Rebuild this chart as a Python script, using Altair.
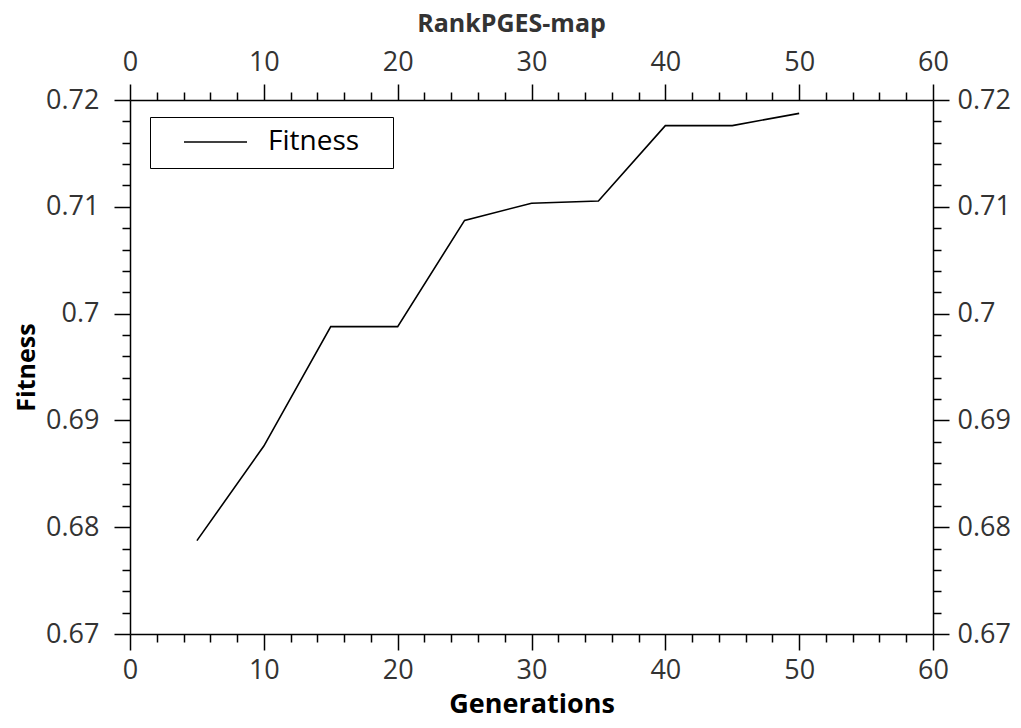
import altair as alt
import pandas as pd

generations = [5, 10, 15, 20, 25, 30, 35, 40, 45, 50]
fitness = [0.67874, 0.6876, 0.69878, 0.69878, 0.70873, 0.71033, 0.71054, 0.7176, 0.7176, 0.71875]
series = ["Fitness"] * len(generations)

x_ticks = list(range(0, 61, 2))
y_ticks = [round(0.67 + 0.002 * i, 3) for i in range(26)]

df = pd.DataFrame({"gen": generations, "fit": fitness, "series": series})

FONT = "Open Sans"
LABEL_SIZE = 27
X_MAJOR = "datum.value % 10 === 0"
Y_MAJOR = "abs(datum.value * 100 - round(datum.value * 100)) < 1e-6"


def axis(orient, values, major, fmt=None, title=None, pad=8, title_size=26, title_pad=4):
    kw = dict(
        orient=orient,
        values=values,
        grid=False,
        domainColor="black",
        domainWidth=1.5,
        tickColor="black",
        tickWidth=1.5,
        tickSize={"condition": {"test": major, "value": 16}, "value": 8},
        labelExpr=f"({major}) ? datum.label : ''",
        labelFont=FONT,
        labelFontSize=LABEL_SIZE,
        labelColor="#333333",
        labelOverlap=False,
        labelFlush=False,
        labelPadding=pad,
        titleFont=FONT,
        titleFontSize=title_size,
        titleFontWeight="bold",
        titleColor="black",
        titlePadding=title_pad,
    )
    if fmt:
        kw["format"] = fmt
    kw["title"] = title
    if title is None:
        kw["title"] = None
    return alt.Axis(**kw)


xscale = alt.Scale(domain=[0, 60], nice=False, zero=False)
yscale = alt.Scale(domain=[0.67, 0.72], nice=False, zero=False)

base = alt.Chart(df)

line = base.mark_line(strokeWidth=1.6).encode(
    x=alt.X("gen:Q", scale=xscale,
            axis=axis("bottom", x_ticks, X_MAJOR, title="Generations", pad=7,
                      title_size=27, title_pad=8)),
    y=alt.Y("fit:Q", scale=yscale,
            axis=axis("left", y_ticks, Y_MAJOR, fmt=".2~f", title="Fitness", pad=15,
                      title_size=25, title_pad=6)),
    color=alt.Color(
        "series:N",
        scale=alt.Scale(range=["black"]),
        legend=alt.Legend(
            title=None,
            orient="none",
            legendX=20,
            legendY=17,
            strokeColor="black",
            padding=12,
            clipHeight=26,
            symbolType="stroke",
            symbolSize=3969,
            symbolStrokeWidth=1.5,
            symbolOffset=21,
            labelOffset=20,
            labelFont=FONT,
            labelFontSize=28,
            labelColor="black",
            labelExpr="datum.label + '\u2800'",
        ),
    ),
)

line2 = base.mark_line(strokeOpacity=0).encode(
    x=alt.X("gen:Q", scale=xscale, axis=axis("top", x_ticks, X_MAJOR, pad=8)),
    y=alt.Y("fit:Q", scale=yscale, axis=axis("right", y_ticks, Y_MAJOR, fmt=".2~f", pad=8)),
)

chart = (
    alt.layer(line, line2)
    .resolve_axis(x="independent", y="independent")
    .properties(
        width=803,
        height=534,
        title=alt.TitleParams(
            "RankPGES-map",
            font=FONT,
            fontSize=25,
            fontWeight="bold",
            color="#333333",
            anchor="middle",
            offset=11,
            dx=-20,
        ),
        autosize=alt.AutoSizeParams(type="none"),
        padding={"left": 122, "top": 92, "right": 80, "bottom": 86},
    )
    .configure_view(stroke=None)
)

chart.save("out.html", embed_options={"renderer": "svg", "actions": False})
